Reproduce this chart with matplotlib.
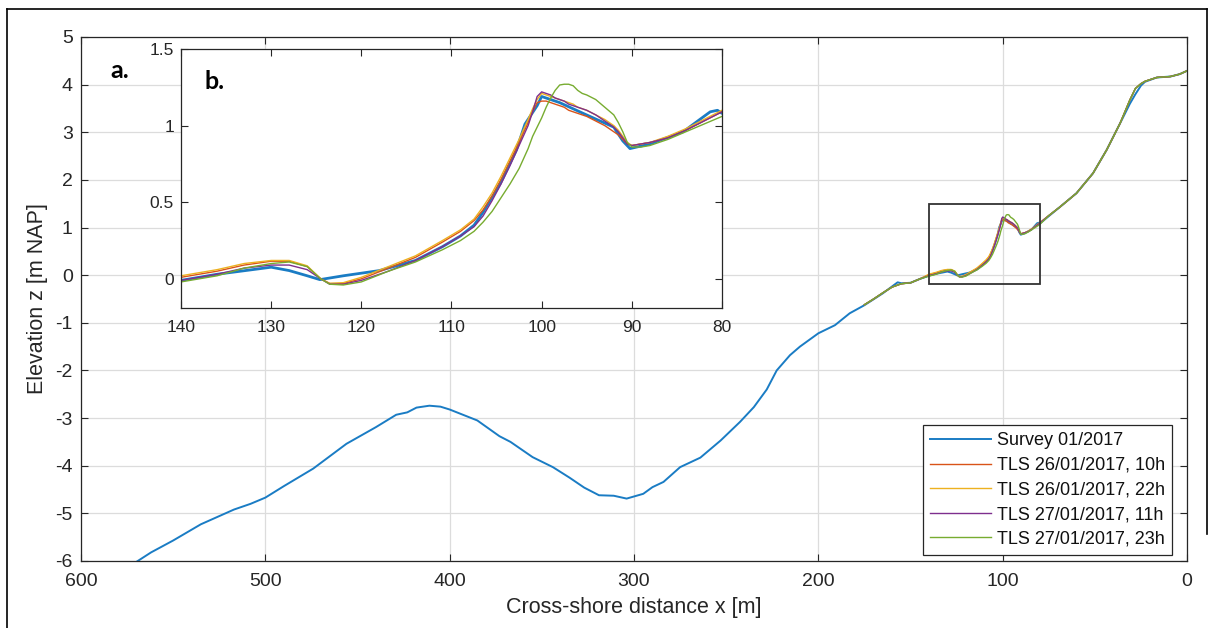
import matplotlib
matplotlib.use("Agg")
import matplotlib.pyplot as plt
from matplotlib.patches import Rectangle
from matplotlib.lines import Line2D

# survey profile (cross-shore distance x [m], elevation z [m NAP])
survey_x = [570, 562, 550, 535, 517, 508, 500, 490, 474, 456, 440, 429, 423, 418, 411,
            405, 400, 385, 373, 367, 355, 344, 335, 327, 319, 311, 304, 295, 290, 284,
            275, 264, 253, 242.5, 235, 228, 222.6, 215.4, 210, 200, 191, 183, 175, 165,
            157, 155, 150, 145, 140, 136, 130, 128, 126, 124.6, 122, 118, 114, 111, 109,
            107.5, 106.5, 104.6, 102.8, 101.85, 100.5, 100, 98, 95.4, 92, 91, 90.2, 88,
            84.3, 82, 81.3, 80.5, 80, 75, 69, 60, 51, 43.6, 36.3, 31, 28, 25, 22.8, 16.4,
            9, 4, 0]
survey_z = [-6.02, -5.82, -5.57, -5.23, -4.92, -4.80, -4.67, -4.43, -4.06, -3.54, -3.19,
            -2.93, -2.88, -2.78, -2.74, -2.76, -2.82, -3.05, -3.38, -3.50, -3.82, -4.03,
            -4.25, -4.46, -4.62, -4.63, -4.69, -4.59, -4.45, -4.34, -4.03, -3.83, -3.47,
            -3.08, -2.77, -2.40, -2.00, -1.68, -1.50, -1.22, -1.05, -0.80, -0.63, -0.38,
            -0.15, -0.17, -0.16, -0.08, -0.01, 0.03, 0.076, 0.054, 0.02, -0.005, 0.02,
            0.054, 0.12, 0.21, 0.28, 0.35, 0.435, 0.62, 0.84, 1.01, 1.13, 1.19, 1.15,
            1.08, 0.99, 0.90, 0.85, 0.88, 0.96, 1.06, 1.09, 1.10, 1.08, 1.24, 1.43, 1.72,
            2.14, 2.63, 3.19, 3.60, 3.80, 3.98, 4.06, 4.15, 4.17, 4.22, 4.29]

# TLS scans: common parts seaward / landward of the zoom window
tls_sea_x = [175, 170, 165, 160, 155, 150, 145]
tls_sea_z = [-0.62, -0.50, -0.37, -0.25, -0.18, -0.16, -0.08]
tls_land_x = [75, 69, 60, 51, 43.6, 36.3, 31, 28, 25, 22.8, 16.4, 9, 4, 0]
tls_land_z = [1.25, 1.43, 1.72, 2.14, 2.63, 3.19, 3.68, 3.92, 4.02, 4.07, 4.15, 4.17,
              4.22, 4.29]

# TLS scans inside the zoom window
tls_x = [140, 136, 133, 130, 128, 126, 124.5, 123.5, 122, 120, 117, 114, 111, 109, 107.5,
         106.5, 105.5, 104.5, 103.5, 102.5, 101.5, 101, 100.5, 100, 99.5, 99, 98.5, 98,
         97.5, 97, 96.5, 96, 95.5, 95, 94, 93, 92, 91.5, 91, 90.5, 90, 89, 88, 86, 84,
         82, 80]
tls_26_10 = [0.01, 0.05, 0.09, 0.115, 0.115, 0.08, 0.0, -0.03, -0.03, 0.0, 0.07, 0.14,
             0.24, 0.31, 0.38, 0.45, 0.54, 0.65, 0.77, 0.89, 1.02, 1.09, 1.15, 1.16, 1.16,
             1.15, 1.14, 1.13, 1.12, 1.10, 1.09, 1.08, 1.07, 1.06, 1.03, 1.0, 0.96, 0.94,
             0.91, 0.88, 0.87, 0.88, 0.89, 0.92, 0.97, 1.03, 1.09]
tls_26_22 = [0.02, 0.06, 0.10, 0.12, 0.12, 0.085, 0.0, -0.03, -0.025, 0.01, 0.08, 0.15,
             0.25, 0.32, 0.39, 0.47, 0.56, 0.67, 0.79, 0.91, 1.04, 1.11, 1.17, 1.21, 1.20,
             1.19, 1.18, 1.17, 1.16, 1.15, 1.14, 1.12, 1.11, 1.10, 1.07, 1.04, 1.0, 0.97,
             0.93, 0.89, 0.87, 0.88, 0.89, 0.93, 0.98, 1.04, 1.10]
tls_27_11 = [-0.01, 0.03, 0.07, 0.09, 0.09, 0.06, 0.0, -0.035, -0.035, -0.01, 0.05, 0.12,
             0.21, 0.28, 0.34, 0.41, 0.51, 0.62, 0.74, 0.87, 1.0, 1.09, 1.19, 1.22, 1.21,
             1.20, 1.18, 1.17, 1.16, 1.14, 1.13, 1.12, 1.11, 1.10, 1.07, 1.03, 0.99, 0.96,
             0.92, 0.88, 0.87, 0.88, 0.89, 0.92, 0.97, 1.03, 1.09]
tls_27_23 = [-0.02, 0.02, 0.07, 0.10, 0.11, 0.08, 0.0, -0.035, -0.04, -0.02, 0.05, 0.11,
             0.19, 0.25, 0.31, 0.37, 0.44, 0.53, 0.62, 0.72, 0.85, 0.93, 0.99, 1.05, 1.12,
             1.18, 1.23, 1.265, 1.27, 1.27, 1.26, 1.23, 1.21, 1.20, 1.17, 1.12, 1.07, 1.02,
             0.96, 0.89, 0.86, 0.86, 0.87, 0.91, 0.96, 1.01, 1.06]

labels = ["Survey 01/2017", "TLS 26/01/2017, 10h", "TLS 26/01/2017, 22h",
          "TLS 27/01/2017, 11h", "TLS 27/01/2017, 23h"]
colors = ["#1a7cc4", "#d95319", "#edb120", "#7e2f8e", "#77ac30"]
tls_series = [tls_26_10, tls_26_22, tls_27_11, tls_27_23]

plt.rcParams["font.family"] = ["Liberation Sans", "DejaVu Sans"]
plt.rcParams["axes.unicode_minus"] = False
txt = "#262626"

fig = plt.figure(figsize=(12.14, 6.28), dpi=100)
ax = fig.add_axes([0.0667, 0.1067, 0.9111, 0.8344])

ax.plot(survey_x, survey_z, color=colors[0], lw=1.4, label=labels[0])
for z, c, lab in zip(tls_series, colors[1:], labels[1:]):
    ax.plot(tls_sea_x + tls_x + tls_land_x, tls_sea_z + z + tls_land_z, color=c, lw=1.0,
            label=lab)

ax.set_xlim(600, 0)
ax.set_ylim(-6, 5)
ax.set_xticks(range(600, -1, -100))
ax.set_yticks(range(-6, 6))
ax.grid(True, color="#dcdcdc", lw=0.9)
ax.tick_params(direction="in", top=True, right=True, labelsize=14, colors=txt,
               length=5, width=0.8)
ax.tick_params(axis="x", pad=9)
ax.tick_params(axis="y", pad=6)
for s in ax.spines.values():
    s.set_color(txt)
    s.set_linewidth(0.9)
ax.set_xlabel("Cross-shore distance x [m]", fontsize=15.5, color=txt, labelpad=5)
ax.set_ylabel("Elevation z [m NAP]", fontsize=15.5, color=txt, labelpad=5)

ax.add_patch(Rectangle((80, -0.19), 60, 1.69, fill=False, ec="#333333", lw=1.3, zorder=5))

leg = ax.legend(loc="lower right", bbox_to_anchor=(0.9864, 0.0115), borderaxespad=0,
                fontsize=13, fancybox=False, framealpha=1, edgecolor=txt,
                labelspacing=0.42, handlelength=3.4, handletextpad=0.3, borderpad=0.4)
leg.get_frame().set_linewidth(0.9)
for t in leg.get_texts():
    t.set_color("#111111")

# zoom window
axi = fig.add_axes([0.1491, 0.5096, 0.4456, 0.4124])
axi.plot(survey_x, survey_z, color=colors[0], lw=2.0)
for z, c in zip(tls_series, colors[1:]):
    axi.plot(tls_sea_x + tls_x + tls_land_x, tls_sea_z + z + tls_land_z, color=c, lw=1.0)
axi.set_xlim(140, 80)
axi.set_ylim(-0.19, 1.5)
axi.set_xticks(range(140, 79, -10))
axi.set_yticks([0, 0.5, 1, 1.5])
axi.set_yticklabels(["0", "0.5", "1", "1.5"])
axi.tick_params(direction="in", top=True, right=True, labelsize=12.5, colors=txt,
                length=5, width=0.8)
axi.tick_params(axis="x", pad=9)
axi.tick_params(axis="y", pad=5)
for s in axi.spines.values():
    s.set_color(txt)
    s.set_linewidth(0.9)

fig.text(0.0988, 0.8885, "a.", fontsize=18, fontweight="bold", family="Lato",
         ha="center", va="center")
fig.text(0.177, 0.870, "b.", fontsize=18, fontweight="bold", family="Lato",
         ha="center", va="center")

# outer frame
fig.add_artist(Line2D([0.0058, 0.0058], [0, 0.9857], color="black", lw=1.2))
fig.add_artist(Line2D([0.0058, 0.9942], [0.9857, 0.9857], color="black", lw=1.2))
fig.add_artist(Line2D([0.9942, 0.9942], [0.9857, 0.15], color="black", lw=1.2))

fig.savefig("out.png", dpi=100)
